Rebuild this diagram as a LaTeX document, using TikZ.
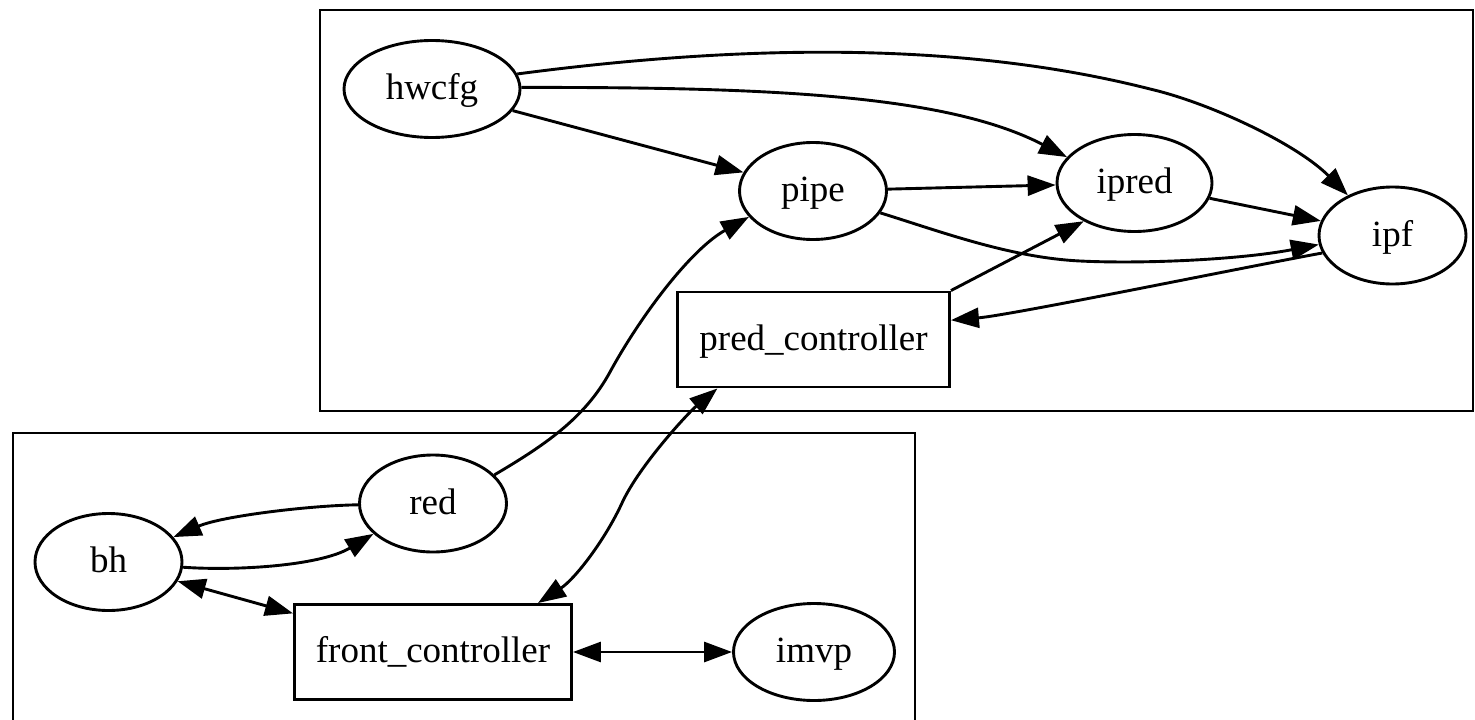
\documentclass[tikz,border=0pt]{standalone}
\usepackage{fontspec}
\setmainfont{Liberation Serif}
\usetikzlibrary{shapes.geometric,arrows.meta}
\begin{document}
\begin{tikzpicture}[x=1pt,y=-1pt,
  every node/.style={font=\fontsize{37}{44}\selectfont, text height=25pt, text depth=4pt,
                     inner sep=0pt, line width=2.9pt},
  ell/.style={draw, ellipse, minimum height=97pt},
  box/.style={draw, rectangle, minimum height=95pt},
  tipshape/.tip={Triangle[length=28pt,width=20pt]},
  edge/.style={line width=2.9pt, -tipshape},
  biedge/.style={line width=2.9pt, tipshape-tipshape},
  cluster/.style={line width=2.9pt}]
\useasboundingbox (0,0) rectangle (1475,720);

% subgraph frames
\draw[cluster] (320,10) rectangle (1473,411);
\draw[cluster] (13,433) rectangle (915,730);

% upper group
\node[ell, minimum width=176pt] (hwcfg) at (432,89) {hwcfg};
\node[ell, minimum width=147pt] (pipe) at (813,191) {pipe};
\node[ell, minimum width=155pt] (ipred) at (1134.5,183) {ipred};
\node[ell, minimum width=147pt] (ipf) at (1392.5,235.5) {ipf};
\node[box, minimum width=272pt] (pc) at (813.5,339.5) {pred\_controller};

% lower group
\node[ell, minimum width=147pt] (red) at (433,503.5) {red};
\node[ell, minimum width=147pt] (bh) at (108.5,562) {bh};
\node[box, minimum width=277pt] (fc) at (433,652) {front\_controller};
\node[ell, minimum width=161pt] (imvp) at (814,652) {imvp};

% connections
\draw[edge] (hwcfg.10) .. controls (722,47) and (950,38) .. (1150,89)
                       .. controls (1210,103) and (1297,144) .. (ipf.138);
\draw[edge] (hwcfg.1) .. controls (772,87) and (947,95) .. (ipred.159);
\draw[edge] (hwcfg) -- (pipe);
\draw[edge] (pipe) -- (ipred);
\draw[edge] (pipe.342) .. controls (942,232) and (1010,257.5) .. (1080,261)
                       .. controls (1140,264) and (1238,260) .. (ipf.187);
\draw[edge] (ipred) -- (ipf);
\draw[edge] (ipf.194) .. controls (1240,268) and (1012,315) .. (pc.8);
\draw[edge] (pc.north east) -- (ipred.217);
\draw[edge] (red.25) .. controls (545,445) and (585,418) .. (610,372)
                     .. controls (640,317) and (690,250) .. (pipe.202);
\draw[biedge] (fc.25) .. controls (575,579) and (605,540) .. (622,503)
                      .. controls (639,466) and (688,413) .. (pc.207);
\draw[edge] (red.181) .. controls (310,505.5) and (222,516) .. (bh.21);
\draw[edge] (bh.356) .. controls (235,571) and (320,566) .. (red.207);
\draw[biedge] (bh) -- (fc);
\draw[biedge] (fc) -- (imvp);
\end{tikzpicture}
\end{document}
